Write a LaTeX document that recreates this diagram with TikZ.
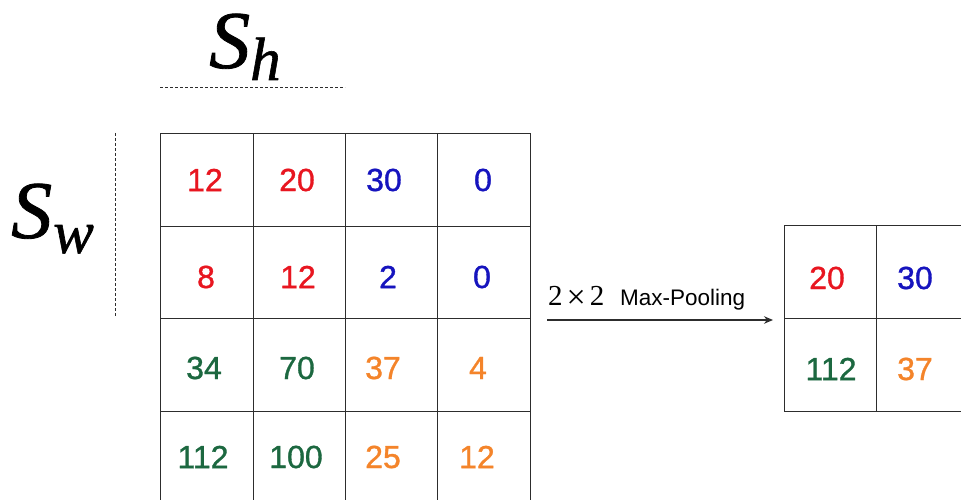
\documentclass[tikz,border=0pt]{standalone}
\usepackage{fontspec}
\setmainfont{Liberation Serif}
\newfontfamily\numfont[FakeBold=1]{Liberation Sans}
\newfontfamily\lblfont{Liberation Sans}
\newfontfamily\sfont[FakeBold=1]{Liberation Serif}
\usetikzlibrary{arrows.meta}
\definecolor{nred}{RGB}{232,22,32}
\definecolor{nblue}{RGB}{22,20,190}
\definecolor{ngreen}{RGB}{28,104,64}
\definecolor{norange}{RGB}{244,132,42}
\definecolor{lineclr}{RGB}{45,45,45}
\begin{document}
\begin{tikzpicture}[x=1pt,y=-1pt,
  gridline/.style={draw=lineclr, line width=0.9pt},
  dashline/.style={draw=lineclr, line width=0.8pt, dash pattern=on 3pt off 2pt},
  num/.style={font=\numfont\fontsize{32}{32}\selectfont, inner sep=0pt, anchor=center},
  bigS/.style={font=\sfont\fontsize{82}{82}\selectfont\itshape, inner sep=0pt, anchor=base west},
  subS/.style={font=\sfont\fontsize{61}{61}\selectfont\itshape, inner sep=0pt, anchor=base west},
  lbl/.style={inner sep=0pt, anchor=base west}]
\useasboundingbox (0,0) rectangle (961,500);
\clip (0,0) rectangle (961,500);
% ---- input grid
\foreach \x in {160.7,253.3,345.3,437.7,530.3}
  \draw[gridline] (\x,133.3) -- (\x,520);
\foreach \y in {133.3,226,318.7,411.3}
  \draw[gridline] (160.7,\y) -- (530.3,\y);
% ---- output grid
\draw[gridline] (784.3,225.7) rectangle (975,411);
\draw[gridline] (876.7,225.7) -- (876.7,411);
\draw[gridline] (784.3,318.3) -- (975,318.3);
% ---- numbers (input)
\node[num, text=nred]    (a11) at (205,180) {12};
\node[num, text=nred]    (a12) at (297,180) {20};
\node[num, text=nblue]   (a13) at (384,180) {30};
\node[num, text=nblue]   (a14) at (483,180) {0};
\node[num, text=nred]    (a21) at (206,277) {8};
\node[num, text=nred]    (a22) at (298,277) {12};
\node[num, text=nblue]   (a23) at (388,277) {2};
\node[num, text=nblue]   (a24) at (482,277) {0};
\node[num, text=ngreen]  (a31) at (204,368) {34};
\node[num, text=ngreen]  (a32) at (297,368) {70};
\node[num, text=norange] (a33) at (383,368) {37};
\node[num, text=norange] (a34) at (478,368) {4};
\node[num, text=ngreen]  (a41) at (203,457) {112};
\node[num, text=ngreen]  (a42) at (296,457) {100};
\node[num, text=norange] (a43) at (383,457) {25};
\node[num, text=norange] (a44) at (477,457) {12};
% ---- numbers (output)
\node[num, text=nred]    (b11) at (827,278) {20};
\node[num, text=nblue]   (b12) at (915,278) {30};
\node[num, text=ngreen]  (b21) at (831,369) {112};
\node[num, text=norange] (b22) at (915,369) {37};
% ---- S_h and S_w
\node[bigS] (sh) at (209,68) {S};
\node[subS] (shsub) at (250,80) {h};
\draw[dashline] (160,87) -- (345,87);
\node[bigS] (sw) at (11,238) {S};
\node[subS] (swsub) at (53,253) {w};
\draw[dashline] (115,133) -- (115,317);
% ---- arrow
\coordinate (arrS) at (547,320);
\coordinate (arrE) at (773,320);
\draw[draw=lineclr, line width=1.1pt, -{Stealth[length=9pt,width=7.5pt]}] (arrS) -- (arrE);
\node[lbl, font=\fontsize{29}{29}\selectfont] (lblA) at (548,305) {2\hspace{4pt}\raisebox{-3pt}{\fontsize{34}{34}\selectfont×}\hspace{4pt}2};
\node[lbl, font=\lblfont\fontsize{22.5}{22.5}\selectfont] (lblB) at (620,305) {Max-Pooling};
\end{tikzpicture}
\end{document}
